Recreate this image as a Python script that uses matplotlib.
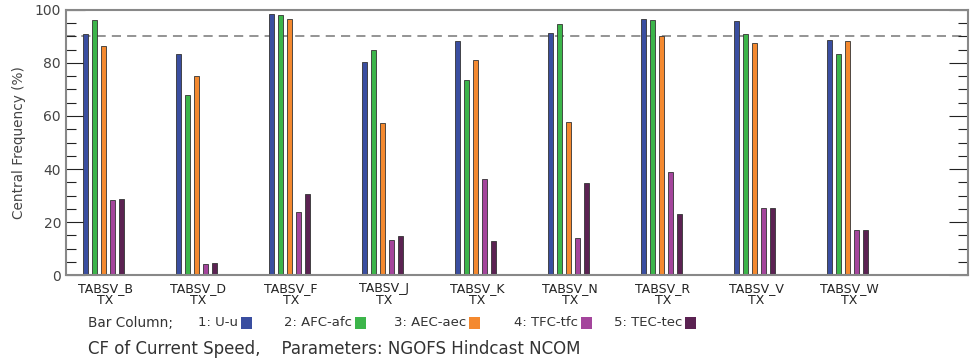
import numpy as np
import matplotlib.pyplot as plt
from matplotlib.patches import Rectangle

stations = ['TABSV_B', 'TABSV_D', 'TABSV_F', 'TABSV_J', 'TABSV_K',
            'TABSV_N', 'TABSV_R', 'TABSV_V', 'TABSV_W']
state = 'TX'

series_names = ['1: U-u', '2: AFC-afc', '3: AEC-aec', '4: TFC-tfc', '5: TEC-tec']
u_u = [91.1, 83.3, 98.4, 80.2, 88.3, 91.5, 96.5, 95.7, 88.7]
afc = [96.1, 68.1, 98.1, 84.8, 73.5, 94.6, 96.1, 91.1, 83.3]
aec = [86.3, 75.0, 96.5, 57.2, 81.3, 57.9, 90.2, 87.6, 88.3]
tfc = [28.3, 4.0, 23.6, 13.1, 36.1, 13.8, 38.7, 25.1, 17.0]
tec = [28.6, 4.4, 30.7, 14.6, 12.7, 34.9, 23.1, 25.1, 17.0]
target = 90

colors = ['#3a4ea0', '#3cb54a', '#f4892f', '#a4459c', '#5b2252']
series = [u_u, afc, aec, tfc, tec]

fig = plt.figure(figsize=(9.73, 3.62), dpi=100)
ax = fig.add_axes([0.0678, 0.2403, 0.9271, 0.7321])

x = np.arange(len(stations))
step = 0.097
width = 0.052
bar_pos = []
for k, (vals, col) in enumerate(zip(series, colors)):
    xs = x + (k - 2) * step
    bar_pos.extend(xs)
    ax.bar(xs, vals, width=width, color=col, edgecolor='#333333', linewidth=0.6, zorder=2)

ax.axhline(target, color='#777777', linestyle=(0, (6, 4)), linewidth=1.1, zorder=1)

ax.set_xlim(-0.4, 9.3)
ax.set_ylim(0, 100)
ax.set_yticks(np.arange(0, 101, 20))
ax.set_yticks(np.arange(0, 101, 5), minor=True)
ax.tick_params(axis='y', which='both', direction='in', left=True, right=True,
               colors='#222222', labelcolor='#444444', labelsize=10, width=0.8)
ax.tick_params(axis='y', which='major', length=14)
ax.tick_params(axis='y', which='minor', length=7)
ax.set_xticks(sorted(bar_pos))
ax.set_xticklabels([])
ax.tick_params(axis='x', which='major', direction='in', length=4, width=1.2,
               colors='#222222')
for s in ax.spines.values():
    s.set_color('#888888')
    s.set_linewidth(1.5)

ax.set_ylabel('Central Frequency (%)', fontsize=9.8, color='#444444', labelpad=6)

for xi, name in zip(x, stations):
    ax.text(xi + 0.02, -2.5, name + '\n' + state, transform=ax.transData,
            ha='center', va='top', fontsize=9, color='#222222', linespacing=0.92)

# legend row
fig_w, fig_h = 973.0, 362.0
leg_y = 1 - 323 / fig_h
fig.text(88 / fig_w, leg_y, 'Bar Column;', fontsize=9.8, color='#333333', va='center')
box_x = [241, 355, 469, 581, 685]
for name, bx, col in zip(series_names, box_x, colors):
    fig.text((bx - 3) / fig_w, leg_y, name, fontsize=9.5, color='#333333',
             va='center', ha='right')
    fig.add_artist(Rectangle((bx / fig_w, leg_y - 6 / fig_h), 11 / fig_w, 12 / fig_h,
                             transform=fig.transFigure, facecolor=col,
                             edgecolor='none'))

fig.text(88 / fig_w, 1 - 349 / fig_h,
         'CF of Current Speed,    Parameters: NGOFS Hindcast NCOM',
         fontsize=12, color='#333333', va='center')

fig.savefig('out.png', dpi=100)
